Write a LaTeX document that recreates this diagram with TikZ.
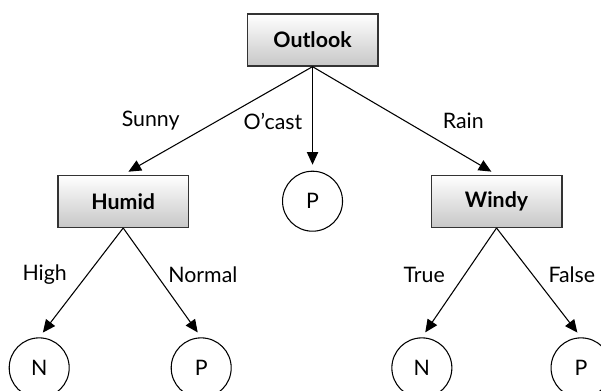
\documentclass[tikz,border=0pt]{standalone}
\usepackage{fontspec}
\setmainfont{Lato}
\usepackage{tikz}
\usetikzlibrary{arrows.meta}
\usetikzlibrary{positioning}
\usetikzlibrary{shapes.geometric}
\tikzstyle{attr} = [draw = black!80, line width = 1pt, rectangle, minimum width = 98pt, minimum height = 39pt, top color = white, bottom color = black!22, font = \fontsize{16}{19}\selectfont\bfseries]
\tikzstyle{leaf} = [draw, circle, line width = 0.8pt, minimum size = 45pt, inner sep = 0pt, font = \fontsize{16}{19}\selectfont]
\tikzstyle{arrow} = [line width = 0.8pt, -{Triangle[length = 9.5pt, width = 8.5pt]}, shorten >= 4.5pt]
\tikzstyle{val} = [font = \fontsize{16}{19}\selectfont]

\begin{document}
\begin{tikzpicture}

		\useasboundingbox (0,0) rectangle (450.75pt,-292.5pt);

		% Root
		\node[attr] (outlook) at (234.4pt,-30pt) {Outlook};

		% Second level
		\node[attr, below = 81pt of outlook, xshift = -142pt] (humid) {Humid};
		\node[leaf, below = 78pt of outlook] (pmid) {P};
		\node[attr, below = 81pt of outlook, xshift = 138pt] (windy) {Windy};

		% Leaves under Humid
		\node[leaf, below = 82pt of humid, xshift = -63pt] (nhigh) {N};
		\node[leaf, below = 82pt of humid, xshift = 58.5pt] (pnormal) {P};

		% Leaves under Windy
		\node[leaf, below = 82pt of windy, xshift = -56pt] (ntrue) {N};
		\node[leaf, below = 82pt of windy, xshift = 63.4pt] (pfalse) {P};

		% Connect all nodes defined above
		\draw[arrow] (outlook.south) -- node[val, midway, left = 25pt] (lsunny) {Sunny} (humid.north);
		\draw[arrow] (outlook.south) -- node[val, pos = 0.53, left = 4pt] (locast) {O’cast} (pmid.north);
		\draw[arrow] (outlook.south) -- node[val, midway, right = 25pt] (lrain) {Rain} (windy.north);
		\draw[arrow] (humid.south) -- node[val, pos = 0.43, left = 11.5pt] (lhigh) {High} (nhigh.north);
		\draw[arrow] (humid.south) -- node[val, pos = 0.43, right = 5pt] (lnormal) {Normal} (pnormal.north);
		\draw[arrow] (windy.south) -- node[val, pos = 0.43, left = 11pt] (ltrue) {True} (ntrue.north);
		\draw[arrow] (windy.south) -- node[val, pos = 0.43, right = 8pt] (lfalse) {False} (pfalse.north);

	\end{tikzpicture}
\end{document}
